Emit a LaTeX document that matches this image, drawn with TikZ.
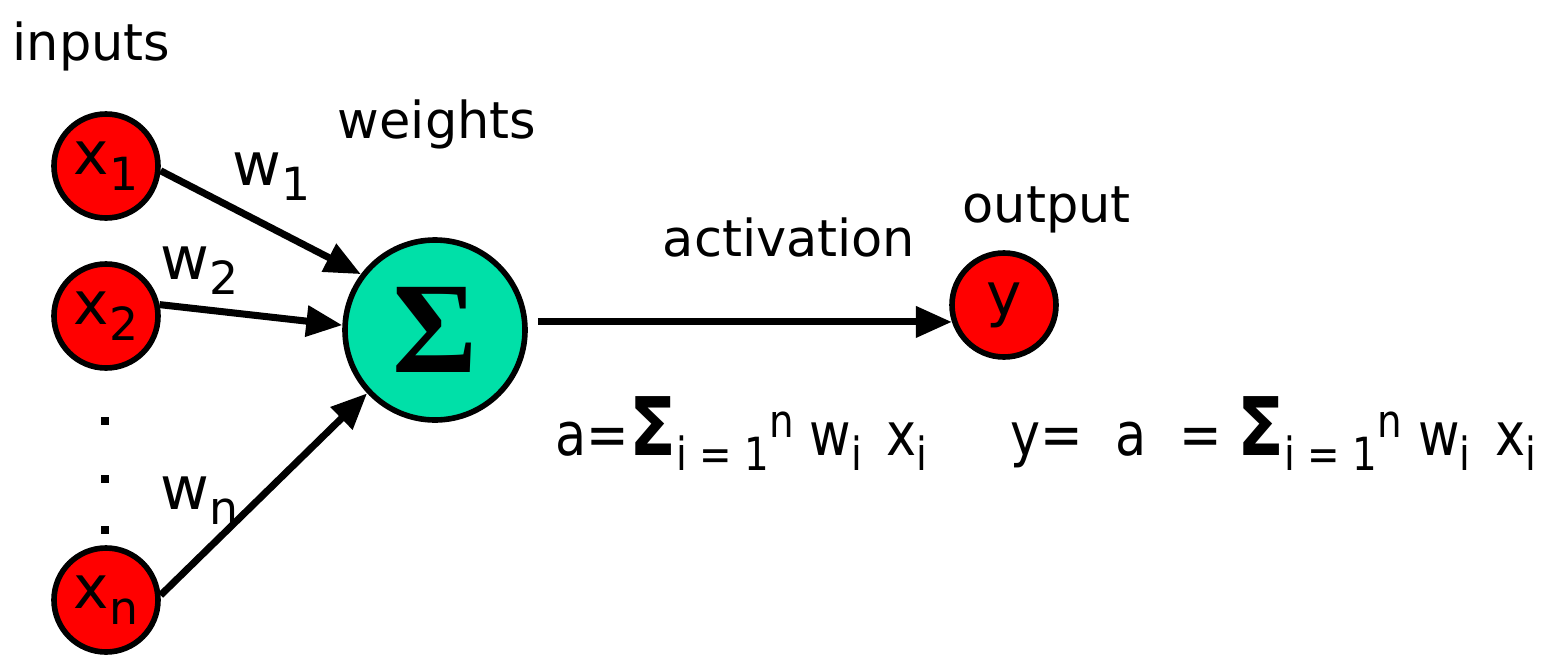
\documentclass[tikz,border=0pt]{standalone}
\usepackage{fontspec}
\setmainfont{DejaVu Sans}
\newfontfamily\sigfont{Liberation Serif}
\usetikzlibrary{arrows.meta}
\definecolor{neured}{RGB}{255,0,0}
\definecolor{sumgreen}{RGB}{0,224,168}
\newcommand{\dn}[1]{\raisebox{-4.5pt}{\fontsize{13}{13}\selectfont #1}}
\newcommand{\upr}[1]{\raisebox{5pt}{\fontsize{13}{13}\selectfont #1}}
\newcommand{\bigsig}{{\fontsize{23}{23}\selectfont\textbf{Σ}}}
\begin{document}
\begin{tikzpicture}[
    neuron/.style={circle, draw, line width=1.6pt, fill=neured, minimum size=1.04cm, inner sep=0pt, font=\fontsize{17}{17}\selectfont},
    sumnode/.style={circle, draw, line width=1.6pt, fill=sumgreen, minimum size=1.8cm, inner sep=0pt},
    lbl/.style={font=\fontsize{14.5}{17}\selectfont, inner sep=0pt},
    wlbl/.style={font=\fontsize{17}{17}\selectfont, inner sep=0pt, anchor=base west},
    formula/.style={font=\fontsize{17}{17}\selectfont, inner sep=0pt, anchor=base west},
    arrow/.style={-{Triangle[length=0.36cm,width=0.3cm]}, line width=2pt},
]
\useasboundingbox (0,0) rectangle (15.51,-6.58);

% neurons
\node[neuron] (x1) at (1.06,-1.66) {x\dn{1}};
\node[neuron] (x2) at (1.06,-3.16) {x\dn{2}};
\node[neuron] (xn) at (1.06,-6.00) {x\dn{n}};
\node[sumnode] (sum) at (4.35,-3.30) {\sigfont\fontsize{37}{37}\selectfont\textbf{Σ}};
\node[neuron] (y) at (10.04,-3.05) {y};

\foreach \py in {4.21,4.79,5.30}
  \fill (1.01,-\py-0.04) rectangle (1.09,-\py+0.04);

% labels
\node[lbl, anchor=base west] (inputs) at (0.12,-0.60) {inputs};
\node[lbl, anchor=base] (weights) at (4.37,-1.38) {weights};
\node[lbl, anchor=base] (act) at (7.89,-2.56) {activation};
\node[lbl, anchor=base west] (out) at (9.62,-2.22) {output};
\node[wlbl] (w1) at (2.32,-1.85) {w\dn{1}};
\node[wlbl] (w2) at (1.60,-2.79) {w\dn{2}};
\node[wlbl] (wn) at (1.60,-5.09) {w\dn{n}};
\node[formula] (fa) at (5.55,-4.55) {\scalebox{0.85}[1]{a=\bigsig\dn{i = 1}\upr{n} w\dn{i}\, x\dn{i}}};
\node[formula] (fy) at (10.10,-4.55) {\scalebox{0.85}[1]{y=\ \ a\ \ = \bigsig\dn{i = 1}\upr{n} w\dn{i}\, x\dn{i}}};

% connections
\draw[arrow] (x1.-5) -- (sum.143);
\draw[arrow] (x2.12) -- (sum.177);
\draw[arrow] (xn.5) -- (sum.223);
\draw[arrow, shorten <=0.1cm] (sum.east |- y.198) -- (y.198);

\end{tikzpicture}
\end{document}
